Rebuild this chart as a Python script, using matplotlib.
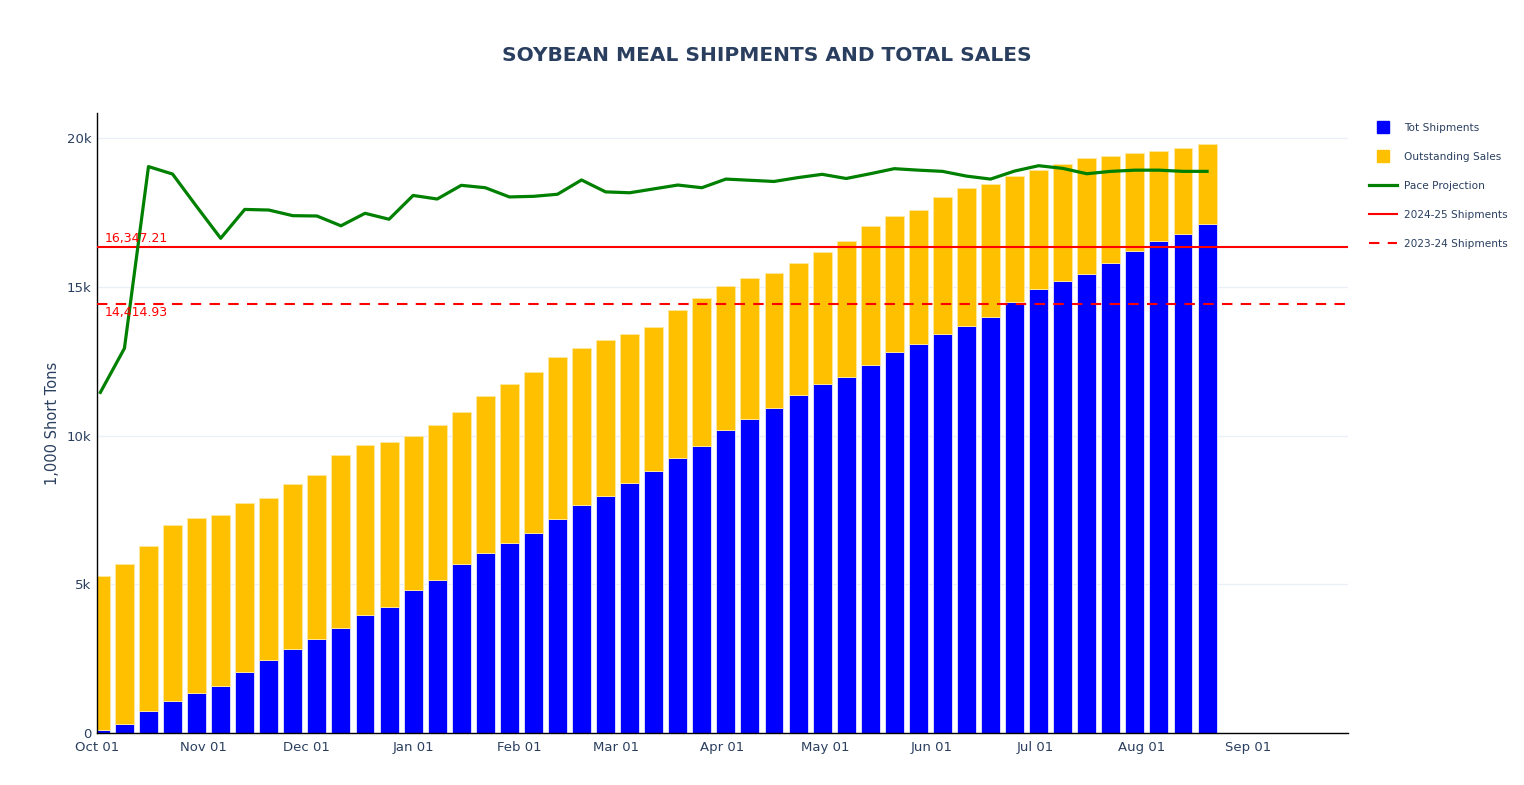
import numpy as np
import pandas as pd
import matplotlib
matplotlib.use("Agg")
import matplotlib.pyplot as plt
import matplotlib.dates as mdates
from matplotlib.lines import Line2D
from matplotlib.ticker import FuncFormatter

# weekly report dates
weeks = pd.date_range("2024-10-02", periods=47, freq="7D")

# 1,000 short tons
tot_shipments = [100, 310, 750, 1090, 1360, 1590, 2060, 2440, 2830, 3170,
                 3540, 3980, 4250, 4820, 5150, 5670, 6040, 6380, 6730, 7180,
                 7670, 7980, 8390, 8820, 9240, 9660, 10170, 10570, 10910, 11350,
                 11720, 11980, 12360, 12800, 13090, 13420, 13690, 13990, 14480, 14940,
                 15200, 15420, 15810, 16210, 16550, 16780, 17120]

outstanding_sales = [5190, 5360, 5520, 5890, 5860, 5730, 5660, 5450, 5530, 5490,
                     5820, 5690, 5530, 5160, 5190, 5130, 5290, 5350, 5400, 5470,
                     5280, 5240, 5020, 4840, 4980, 4960, 4860, 4720, 4570, 4450,
                     4440, 4550, 4680, 4580, 4480, 4590, 4620, 4480, 4260, 3970,
                     3930, 3900, 3580, 3300, 3030, 2900, 2680]

pace_projection = [11450, 12930, 19040, 18790, 17700, 16630, 17600, 17580, 17390, 17380,
                   17050, 17470, 17270, 18070, 17950, 18410, 18330, 18020, 18040, 18110,
                   18590, 18190, 18160, 18290, 18420, 18330, 18620, 18580, 18540, 18670,
                   18780, 18640, 18800, 18970, 18920, 18880, 18720, 18620, 18890, 19070,
                   18980, 18800, 18880, 18920, 18920, 18880, 18880]

ship_2425 = 16347.21
ship_2324 = 14414.93

month_ticks = pd.date_range("2024-10-01", "2025-09-01", freq="MS")

txt = "#2a3f5f"
blue = "#0000ff"
gold = "#ffc000"

fig = plt.figure(figsize=(15.24, 7.85), dpi=100)
ax = fig.add_axes([0.0636, 0.0662, 0.8209, 0.7898])

ax.bar(weeks, tot_shipments, width=5.5, color=blue, edgecolor="#e8e8ff", linewidth=0.6, zorder=2)
ax.bar(weeks, outstanding_sales, width=5.5, bottom=tot_shipments, color=gold,
       edgecolor="#ffe9a0", linewidth=0.6, zorder=2)
ax.plot(weeks, pace_projection, color="green", linewidth=2.3, zorder=4)

ax.axhline(ship_2425, color="red", linewidth=1.5, zorder=3)
ax.axhline(ship_2324, color="red", linewidth=1.5, linestyle=(0, (5, 4)), zorder=3)
ax.annotate(f"{ship_2425:,.2f}", xy=(0, ship_2425), xycoords=("axes fraction", "data"),
            xytext=(8, 2), textcoords="offset pixels", color="red", fontsize=9,
            ha="left", va="bottom", zorder=5)
ax.annotate(f"{ship_2324:,.2f}", xy=(0, ship_2324), xycoords=("axes fraction", "data"),
            xytext=(8, -2), textcoords="offset pixels", color="red", fontsize=9,
            ha="left", va="top", zorder=5)

ax.set_xlim(pd.Timestamp("2024-10-01"), pd.Timestamp("2025-09-30"))
ax.set_ylim(0, 20840)
ax.set_xticks(month_ticks)
ax.xaxis.set_major_formatter(mdates.DateFormatter("%b %d"))
ax.set_yticks([0, 5000, 10000, 15000, 20000])
ax.yaxis.set_major_formatter(FuncFormatter(lambda v, p: "0" if v == 0 else f"{int(v / 1000)}k"))
ax.tick_params(axis="both", length=0, labelsize=9.5, labelcolor=txt)
ax.tick_params(axis="x", pad=6)
ax.tick_params(axis="y", pad=4)
ax.grid(axis="y", color="#ebf0f8", linewidth=1, zorder=0)
ax.set_axisbelow(True)
for s in ["top", "right"]:
    ax.spines[s].set_visible(False)
for s in ["left", "bottom"]:
    ax.spines[s].set_color("black")
    ax.spines[s].set_linewidth(1)

ax.set_ylabel("1,000 Short Tons", color=txt, fontsize=10.5, labelpad=5)
fig.text(0.503, 0.929, "SOYBEAN MEAL SHIPMENTS AND TOTAL SALES", ha="center", va="center",
         fontsize=14.5, fontweight="bold", color=txt)

handles = [
    Line2D([], [], marker="s", linestyle="none", markersize=9, color=blue),
    Line2D([], [], marker="s", linestyle="none", markersize=9, color=gold),
    Line2D([], [], color="green", linewidth=2.3),
    Line2D([], [], color="red", linewidth=1.5),
    Line2D([], [], color="red", linewidth=1.5, linestyle=(0, (5, 4))),
]
labels = ["Tot Shipments", "Outstanding Sales", "Pace Projection",
          "2024-25 Shipments", "2023-24 Shipments"]
leg = fig.legend(handles, labels, loc="upper left", bbox_to_anchor=(0.8955, 0.849),
                 frameon=False, fontsize=7.6, labelspacing=1.8, handlelength=2.7,
                 handletextpad=0.65, borderaxespad=0)
for t in leg.get_texts():
    t.set_color(txt)

fig.savefig("out.png", dpi=100)
